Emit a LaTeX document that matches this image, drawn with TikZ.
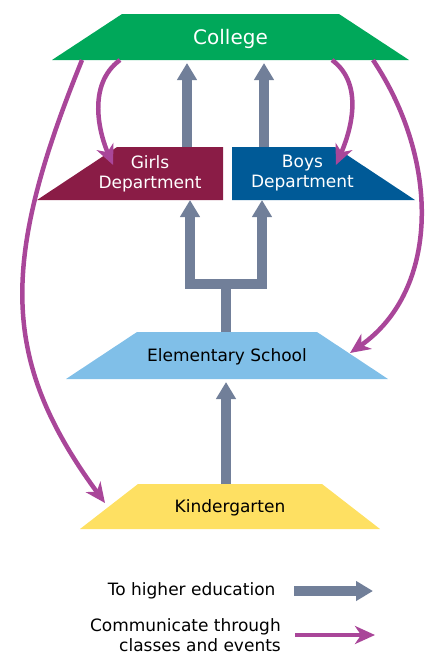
\documentclass[tikz,border=0pt]{standalone}
\usepackage{fontspec}
\setmainfont{DejaVu Sans}
\usetikzlibrary{shapes.geometric,arrows.meta,calc}

\definecolor{collegegreen}{RGB}{0,168,90}
\definecolor{girlsred}{RGB}{138,28,70}
\definecolor{boysblue}{RGB}{0,90,151}
\definecolor{elemblue}{RGB}{128,191,232}
\definecolor{kinderyellow}{RGB}{254,224,98}
\definecolor{eduslate}{RGB}{113,127,153}
\definecolor{talkpurple}{RGB}{169,70,153}

\tikzset{
  level/.style={trapezium, trapezium stretches body, inner sep=0pt, outer sep=0pt, align=center, font=\fontsize{17}{20}\selectfont},
  deptlbl/.style={text=white, align=center, font=\fontsize{17}{20}\selectfont},
  hiedu/.style={draw=eduslate, line width=10pt, -{Triangle[length=17pt,width=19pt]}},
  talk/.style={draw=talkpurple, line width=4.5pt, -{Stealth[length=20pt,width=18pt,inset=6pt]}}
}

\begin{document}
\begin{tikzpicture}[x=1pt, y=-1pt]
\useasboundingbox (0,0) rectangle (424,654);

\node[level, fill=collegegreen, text=white, trapezium angle=33.3, minimum width=357pt, text height=30.3pt, text depth=15.7pt, font=\fontsize{20}{24}\selectfont] (college) at (230.5,37) {College};
\node[level, fill=girlsred, trapezium left angle=33.5, trapezium right angle=90, minimum width=186pt, text height=53pt, text depth=0pt, anchor=bottom left corner,
  label={[deptlbl, xshift=-20pt]center:Girls\\Department}] (girls) at (37,200) {};
\node[level, fill=boysblue, trapezium left angle=90, trapezium right angle=33.5, minimum width=183pt, text height=53pt, text depth=0pt, anchor=bottom right corner,
  label={[deptlbl, xshift=19pt]center:Boys\\Department}] (boys) at (415,200) {};
\node[level, fill=elemblue, trapezium angle=33.5, minimum width=322pt, text height=29.7pt, text depth=17.3pt] (elem) at (227,355.5) {Elementary School};
\node[level, fill=kinderyellow, trapezium angle=37.8, minimum width=300pt, text height=28.7pt, text depth=16.3pt] (kinder) at (230,506.5) {Kindergarten};

% to higher education
\coordinate (gup) at ($(girls.top right corner)+(-36,0)$);
\coordinate (bup) at ($(boys.top left corner)+(32,0)$);
\draw[hiedu, shorten >=3pt] (gup) -- (gup |- college.south);
\draw[hiedu, shorten >=3pt] (bup) -- (bup |- college.south);
\coordinate (gin) at ($(girls.bottom right corner)+(-33,0)$);
\coordinate (bin) at ($(boys.bottom left corner)+(30,0)$);
\coordinate (fork) at ($(elem.north)+(-1,-48)$);
\draw[hiedu, -] (elem.north -| fork) -- (fork);
\draw[hiedu, -, line cap=rect] (gin |- fork) -- (bin |- fork);
\draw[hiedu, line cap=rect] (gin |- fork) -- (gin);
\draw[hiedu, line cap=rect] (bin |- fork) -- (bin);
\draw[hiedu, shorten >=3pt] (kinder.north -| fork) -- (elem.south -| fork);

% communication
\draw[talk] ($(college.bottom left corner)+(68,0)$) .. controls (86,85) and (100,135) .. ($(girls.top left corner)+(-4,18)$);
\draw[talk] ($(college.bottom right corner)+(-77,0)$) .. controls (366,85) and (349,135) .. ($(boys.top right corner)+(1,18)$);
\draw[talk] ($(college.bottom left corner)+(30,0)$) .. controls (0,262) and (0,360) .. (105,503);
\draw[talk] ($(college.bottom right corner)+(-36,0)$) .. controls (440,160) and (440,290) .. (350,353);

% legend
\node[anchor=east, font=\fontsize{17}{20}\selectfont] (hilbl) at (279,591) {To higher education};
\node[anchor=east, align=right, inner sep=0pt, font=\fontsize{17}{20}\selectfont] (talklbl) at (281,635) {Communicate through\\classes and events};
\coordinate (hia) at (294,591); \coordinate (hib) at (373,591);
\coordinate (talka) at (295,635); \coordinate (talkb) at (375,635);
\draw[hiedu] (hia) -- (hib);
\draw[talk] (talka) -- (talkb);
\end{tikzpicture}
\end{document}
